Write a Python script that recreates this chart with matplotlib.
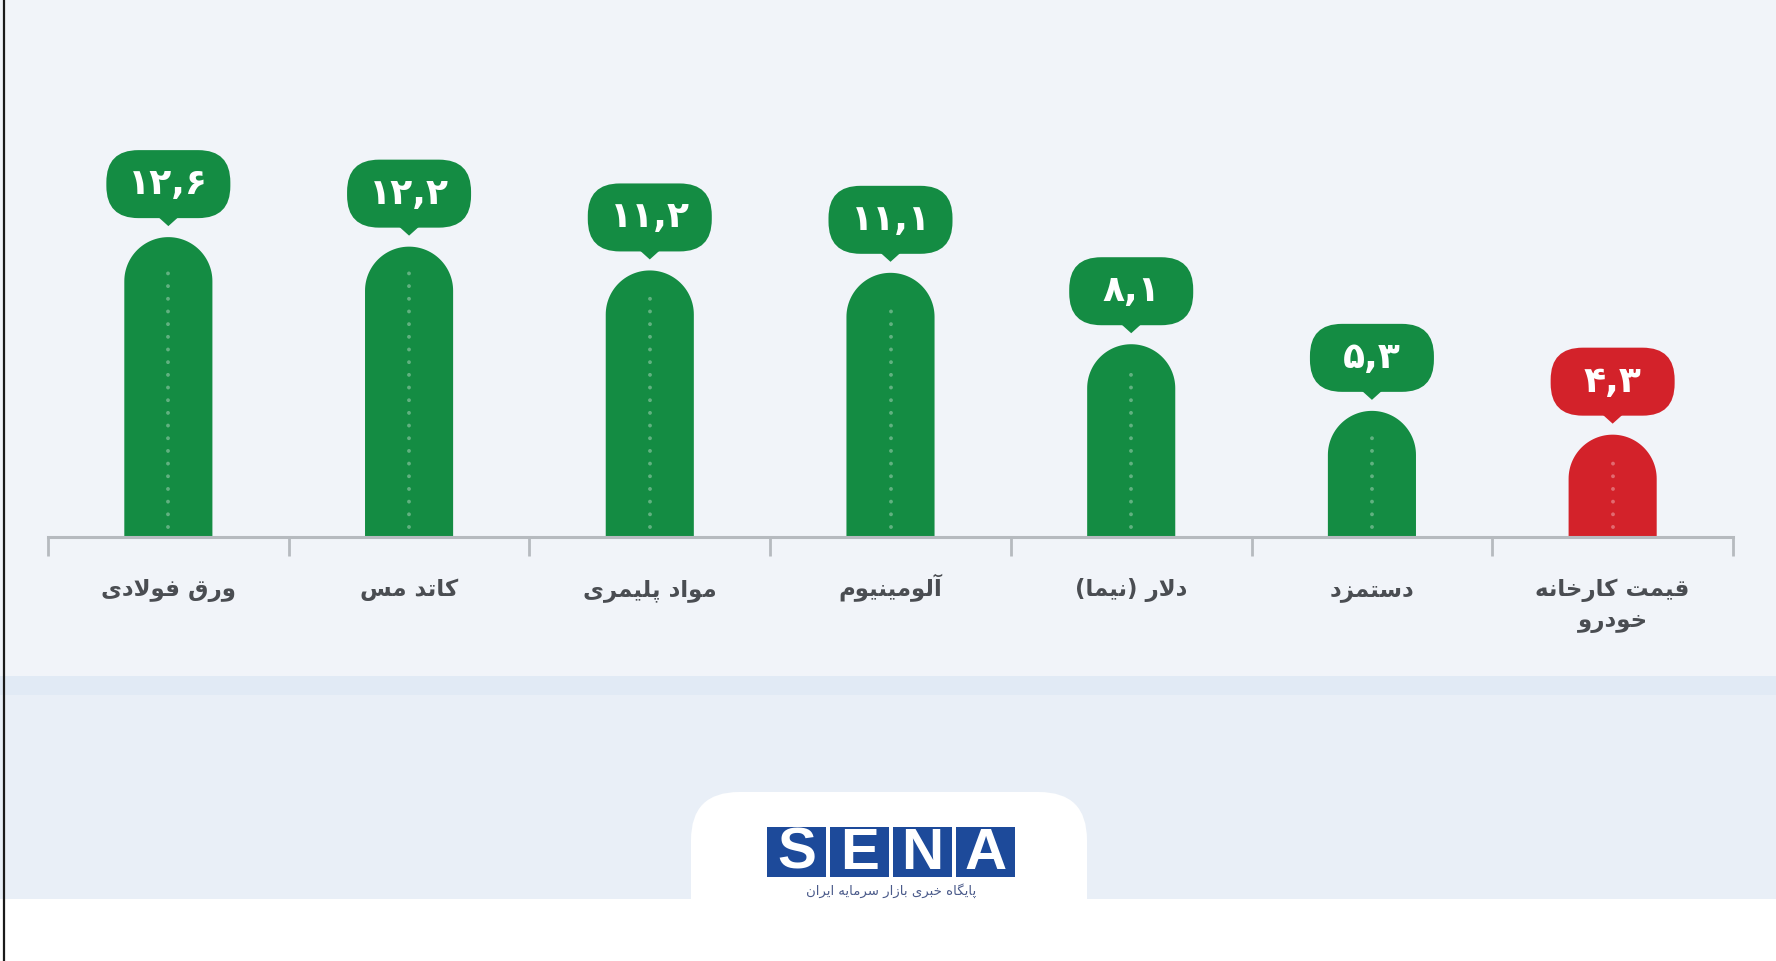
import matplotlib
matplotlib.use('Agg')
import matplotlib.pyplot as plt
import matplotlib.patches as mpatches
import matplotlib.transforms as mtransforms
from matplotlib.lines import Line2D
import numpy as np

#chart data
categories = ['ورق فولادی', 'کاتد مس', 'مواد پلیمری', 'آلومینیوم', 'دلار (نیما)', 'دستمزد', 'قیمت کارخانه\nخودرو']
values = [12.6, 12.2, 11.2, 11.1, 8.1, 5.3, 4.3]
logo_text = 'SENA'
logo_sub = 'پایگاه خبری بازار سرمایه ایران'

GREEN = '#148c43'
RED = '#d3222a'

#arabic letter forms: isolated, final, initial, medial
FORMS = {
    'ا': ('\uFE8D', '\uFE8E', None, None),
    'آ': ('\uFE81', '\uFE82', None, None),
    'د': ('\uFEA9', '\uFEAA', None, None),
    'ر': ('\uFEAD', '\uFEAE', None, None),
    'ز': ('\uFEAF', '\uFEB0', None, None),
    'و': ('\uFEED', '\uFEEE', None, None),
    '\uFEFB': ('\uFEFB', '\uFEFC', None, None),
    'ب': ('\uFE8F', '\uFE90', '\uFE91', '\uFE92'),
    'ت': ('\uFE95', '\uFE96', '\uFE97', '\uFE98'),
    'خ': ('\uFEA5', '\uFEA6', '\uFEA7', '\uFEA8'),
    'س': ('\uFEB1', '\uFEB2', '\uFEB3', '\uFEB4'),
    'ف': ('\uFED1', '\uFED2', '\uFED3', '\uFED4'),
    'ق': ('\uFED5', '\uFED6', '\uFED7', '\uFED8'),
    'ل': ('\uFEDD', '\uFEDE', '\uFEDF', '\uFEE0'),
    'م': ('\uFEE1', '\uFEE2', '\uFEE3', '\uFEE4'),
    'ن': ('\uFEE5', '\uFEE6', '\uFEE7', '\uFEE8'),
    'ه': ('\uFEE9', '\uFEEA', '\uFEEB', '\uFEEC'),
    'ی': ('\uFBFC', '\uFBFD', '\uFBFE', '\uFBFF'),
    'ک': ('\uFB8E', '\uFB8F', '\uFB90', '\uFB91'),
    'گ': ('\uFB92', '\uFB93', '\uFB94', '\uFB95'),
    'پ': ('\uFB56', '\uFB57', '\uFB58', '\uFB59'),
}
MIRROR = {'(': ')', ')': '('}


def shape_line(s):
    s = s.replace('لا', '\uFEFB')
    out = []
    for i, ch in enumerate(s):
        if ch not in FORMS:
            out.append(ch)
            continue
        prev = s[i - 1] if i > 0 else None
        nxt = s[i + 1] if i + 1 < len(s) else None
        iso, fin, ini, med = FORMS[ch]
        jp = prev in FORMS and FORMS[prev][2] is not None
        jn = nxt in FORMS and ini is not None
        if jp and jn:
            out.append(med)
        elif jp:
            out.append(fin)
        elif jn:
            out.append(ini)
        else:
            out.append(iso)
    return ''.join(MIRROR.get(c, c) for c in reversed(out))


def fa_num(v):
    return f'{v:.1f}'.replace('.', ',').translate(str.maketrans('0123456789', '۰۱۲۳۴۵۶۷۸۹'))


W, H = 1776, 962
fig = plt.figure(figsize=(W / 100, H / 100), dpi=100)
fig.patch.set_facecolor('#f1f4f9')
px = mtransforms.Affine2D().scale(1 / W, 1 / H) + fig.transFigure

#background pieces
fig.add_artist(mpatches.Rectangle((0, 62), W, 223, transform=px, color='#e9eff7', zorder=-3, lw=0))
fig.add_artist(mpatches.Rectangle((0, 266), W, 19, transform=px, color='#e1eaf5', zorder=-3, lw=0))
fig.add_artist(mpatches.Rectangle((0, 0), W, 62, transform=px, color='white', zorder=-3, lw=0))
fig.add_artist(mpatches.FancyBboxPatch((691, 10), 396, 159, boxstyle='round,pad=0,rounding_size=48',
                                       transform=px, color='white', zorder=-2, lw=0))
fig.add_artist(Line2D([4, 4], [0, H], transform=px, color='#1a1a1a', lw=1.6, zorder=5))

#axes
ppu = 23.8
ymax = 22
ax = fig.add_axes([48 / W, 424 / H, 1685 / W, ymax * ppu / H])
ax.set_facecolor('none')
bw = 0.366
cap = (bw * 1685 / 7 / 2) / ppu
colors = [RED if c.startswith('قیمت') else GREEN for c in categories]
xs = list(range(len(values)))
t = np.linspace(0, np.pi, 60)

for x, v, c in zip(xs, values, colors):
    #bar with a semicircular top
    top = v - cap
    verts = [(x - bw / 2, 0), (x + bw / 2, 0)]
    verts += list(zip(x + bw / 2 * np.cos(t), top + cap * np.sin(t)))
    verts += [(x - bw / 2, 0)]
    ax.add_patch(mpatches.Polygon(verts, closed=True, color=c, lw=0, zorder=2))
    ax.plot([x, x], [10 / ppu, v - 26 / ppu], color='white', alpha=0.33, lw=2.8,
            dashes=(0.01, 3.25), dash_capstyle='round', zorder=3)
    #value bubble
    tr = mtransforms.Affine2D() + mtransforms.ScaledTranslation(x, v, ax.transData)
    ax.add_patch(mpatches.FancyBboxPatch((-62, 19), 124, 68, boxstyle='round,pad=0,rounding_size=32',
                                         transform=tr, color=c, lw=0, clip_on=False, zorder=4))
    ax.add_patch(mpatches.Polygon([(-10, 20), (10, 20), (0, 11)], closed=True, transform=tr,
                                  color=c, lw=0, clip_on=False, zorder=4))
    ax.annotate(fa_num(v), (x, v), xytext=(0, 54), textcoords='offset pixels', ha='center', va='center',
                color='white', fontsize=26, fontweight='bold', family=['DejaVu Sans'], zorder=5)

#category labels, one line at a time so every first line shares a baseline
for x, c in zip(xs, categories):
    for j, line in enumerate(c.split('\n')):
        ax.annotate(shape_line(line), (x, 0), xytext=(0, -58 - 31 * j), textcoords='offset pixels',
                    ha='center', va='baseline', color='#4a4d52', fontsize=16.5, fontweight='bold',
                    family=['DejaVu Sans'], annotation_clip=False)

ax.set_xlim(-0.5, len(values) - 0.5)
ax.set_ylim(0, ymax)
for s in ['top', 'right', 'left']:
    ax.spines[s].set_visible(False)
ax.spines['bottom'].set_color('#b6babf')
ax.spines['bottom'].set_linewidth(2.2)
ax.spines['bottom'].set_zorder(6)
ax.set_yticks([])
ax.set_xticks([i - 0.5 for i in range(len(values) + 1)])
ax.set_xticklabels([])
ax.tick_params(axis='x', which='major', length=14, width=2, color='#b6babf', direction='out')

#logo
for k, ch in enumerate(logo_text):
    x0 = 767 + k * 63
    fig.add_artist(mpatches.Rectangle((x0, 84), 59, 50, transform=px, color='#1d4a9a', lw=0, zorder=6))
    fig.text((x0 + 29.5) / W, 108 / H, ch, ha='center', va='center', color='white',
             fontsize=42, fontweight='bold', family='Liberation Sans', zorder=7)
fig.text(891 / W, 71 / H, shape_line(logo_sub), ha='center', va='center', color='#4a5a8a',
         fontsize=9.5, family='DejaVu Sans', zorder=7)

fig.savefig('out.png', dpi=100, facecolor=fig.get_facecolor())
